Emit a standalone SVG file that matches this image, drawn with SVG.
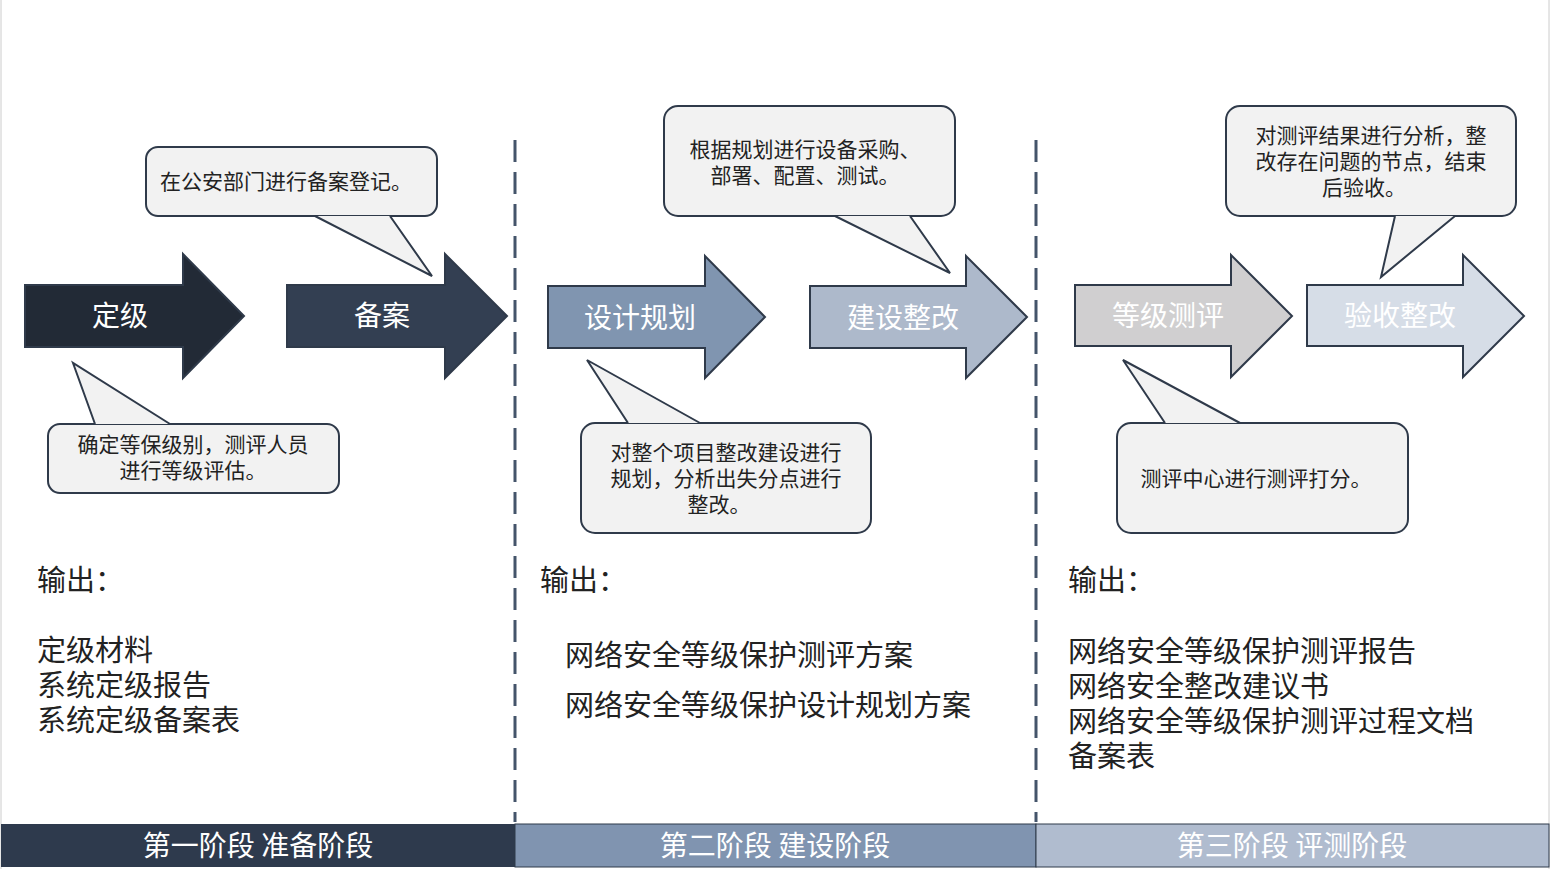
<svg xmlns="http://www.w3.org/2000/svg" width="1550" height="869" viewBox="0 0 1550 869">
<style>
text{font-family:"Noto Sans CJK SC","Liberation Sans",sans-serif}
.ar{stroke:#2f3a4a;stroke-width:2}
.at{font-size:28px;fill:#fff;text-anchor:middle}
.cb{fill:#f2f2f2;stroke:#2f3a4a;stroke-width:2}
.cf{fill:#f2f2f2}
.ct{font-size:21px;fill:#222;text-anchor:middle}
.ot{font-size:29px;fill:#222}
.dv{stroke:#44546a;stroke-width:3;stroke-dasharray:22 10}
.bt{font-size:28px;fill:#fff;text-anchor:middle}
</style>
<rect x="0" y="0" width="1550" height="869" fill="#fff"/>
<line x1="1" y1="0" x2="1" y2="869" stroke="#ccc"/>
<line x1="1549" y1="0" x2="1549" y2="869" stroke="#ccc"/>
<g id="connectors">
<line class="dv" x1="515" y1="140" x2="515" y2="822"/>
<line class="dv" x1="1036" y1="140" x2="1036" y2="822"/>
</g>
<g id="a1"><path class="ar" fill="#222a36" d="M25 285H183V254L244 316L183 378V347H25Z"/><text class="at" x="120" y="326">定级</text></g>
<g id="a2"><path class="ar" fill="#333f52" d="M287 285H445V254L507 316L445 378V347H287Z"/><text class="at" x="382" y="326">备案</text></g>
<g id="a3"><path class="ar" fill="#8095b0" d="M548 286H705V256L765 317L705 378V348H548Z"/><text class="at" x="640" y="328">设计规划</text></g>
<g id="a4"><path class="ar" fill="#adb9cb" d="M810 286H966V256L1027 317L966 378V348H810Z"/><text class="at" x="903" y="328">建设整改</text></g>
<g id="a5"><path class="ar" fill="#d0cfd0" d="M1075 285H1231V255L1292 316L1231 377V346H1075Z"/><text class="at" x="1168" y="326" fill="#f5f5f5">等级测评</text></g>
<g id="a6"><path class="ar" fill="#d6dde7" d="M1307 285H1463V255L1524 316L1463 377V346H1307Z"/><text class="at" x="1400" y="326" fill="#f5f7fa">验收整改</text></g>
<g id="c1"><rect class="cb" x="146" y="147" width="291" height="69" rx="12"/><path class="cb" d="M315 216L432 276L390 216"/><rect class="cf" x="313" y="212" width="80" height="3"/><text class="ct" x="286" y="189">在公安部门进行备案登记。</text></g>
<g id="c2"><rect class="cb" x="48" y="424" width="291" height="69" rx="12"/><path class="cb" d="M95 424L73 363L170 424"/><rect class="cf" x="93" y="425" width="80" height="3"/><text class="ct" x="193" y="452">确定等保级别，测评人员</text><text class="ct" x="193" y="478">进行等级评估。</text></g>
<g id="c3"><rect class="cb" x="664" y="106" width="291" height="110" rx="14"/><path class="cb" d="M835 216L950 273L910 216"/><rect class="cf" x="833" y="212" width="80" height="3"/><text class="ct" x="805" y="157">根据规划进行设备采购、</text><text class="ct" x="805" y="183">部署、配置、测试。</text></g>
<g id="c4"><rect class="cb" x="581" y="423" width="290" height="110" rx="14"/><path class="cb" d="M628 423L587 360L700 423"/><rect class="cf" x="626" y="424" width="78" height="3"/><text class="ct" x="726" y="460">对整个项目整改建设进行</text><text class="ct" x="726" y="486">规划，分析出失分点进行</text><text class="ct" x="719" y="512">整改。</text></g>
<g id="c5"><rect class="cb" x="1226" y="106" width="290" height="110" rx="14"/><path class="cb" d="M1395 216L1381 277L1455 216"/><rect class="cf" x="1393" y="212" width="64" height="3"/><text class="ct" x="1371" y="143">对测评结果进行分析，整</text><text class="ct" x="1371" y="169">改存在问题的节点，结束</text><text class="ct" x="1364" y="195">后验收。</text></g>
<g id="c6"><rect class="cb" x="1117" y="423" width="291" height="110" rx="14"/><path class="cb" d="M1165 423L1123 360L1240 423"/><rect class="cf" x="1163" y="424" width="80" height="3"/><text class="ct" x="1256" y="486">测评中心进行测评打分。</text></g>
<g id="o1" class="ot"><text x="37" y="591">输出：</text><text x="37" y="661">定级材料</text><text x="37" y="696">系统定级报告</text><text x="37" y="731">系统定级备案表</text></g>
<g id="o2" class="ot"><text x="540" y="591">输出：</text><text x="565" y="666">网络安全等级保护测评方案</text><text x="565" y="716">网络安全等级保护设计规划方案</text></g>
<g id="o3" class="ot"><text x="1068" y="591">输出：</text><text x="1068" y="662">网络安全等级保护测评报告</text><text x="1068" y="697">网络安全整改建议书</text><text x="1068" y="732">网络安全等级保护测评过程文档</text><text x="1068" y="767">备案表</text></g>
<g id="b1"><rect x="1" y="824" width="514" height="43" fill="#2e3a4d"/><text class="bt" x="258" y="856">第一阶段 准备阶段</text></g>
<g id="b2"><rect x="515" y="824" width="521" height="43" fill="#8094b0" stroke="#2f3a4a"/><text class="bt" x="775" y="856">第二阶段 建设阶段</text></g>
<g id="b3"><rect x="1036" y="824" width="513" height="43" fill="#b0bccf" stroke="#2f3a4a"/><text class="bt" x="1292" y="856">第三阶段 评测阶段</text></g>
</svg>
